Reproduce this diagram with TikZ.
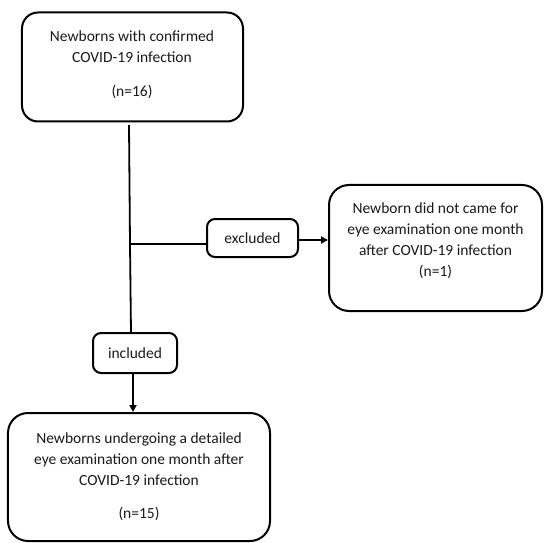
\documentclass[tikz,border=0pt]{standalone}
\usepackage{fontspec}
\setmainfont{Carlito}
\usetikzlibrary{arrows.meta}
\tikzset{
  box/.style={draw, line width=2bp, rounded corners=#1, inner sep=0pt},
  box/.default=16bp,
  txt/.style={align=center, font=\fontsize{15.5bp}{21bp}\selectfont, text=black!90, inner sep=0pt},
  conn/.style={line width=1.8bp},
  arr/.style={line width=1.8bp, -{Triangle[length=7bp,width=7bp]}}
}
\begin{document}
\begin{tikzpicture}[x=1bp,y=-1bp]
\useasboundingbox (0,0) rectangle (544,543);
% boxes
\node[box=16bp, minimum width=221bp, minimum height=109bp] (top) at (132.5,67) {};
\node[txt] (toptxt) at (132,46.5) {Newborns with confirmed\\COVID-19 infection};
\node[txt] (topn) at (132,92) {(n=16)};

\node[box=8bp, minimum width=91bp, minimum height=38bp] (excl) at (252.5,238) {};
\node[txt] (excltxt) at (252.5,238) {excluded};

\node[box=20bp, minimum width=213bp, minimum height=126bp] (right) at (435.5,248) {};
\node[txt] (righttxt) at (435.5,240.5) {Newborn did not came for\\eye examination one month\\after COVID-19 infection\\(n=1)};

\node[box=8bp, minimum width=84bp, minimum height=40bp] (incl) at (135,353) {};
\node[txt] (incltxt) at (135,353) {included};

\node[box=20bp, minimum width=262bp, minimum height=128bp] (bot) at (139,477) {};
\node[txt] (bottxt) at (139,459) {Newborns undergoing a detailed\\eye examination one month after\\COVID-19 infection};
\node[txt] (botn) at (139,514) {(n=15)};

% connectors
\coordinate (t1) at (129,125);
\coordinate (j) at (130,244);
\coordinate (t2) at (131,333);
\draw[conn] (t1) -- (j) -- (t2);
\draw[conn] (j) -- (j -| excl.west);
\draw[arr] (excl.east |- 0,240) -- (right.west |- 0,240);
\draw[arr] (incl.south -| 133,0) -- (bot.north -| 133,0);
\end{tikzpicture}
\end{document}
